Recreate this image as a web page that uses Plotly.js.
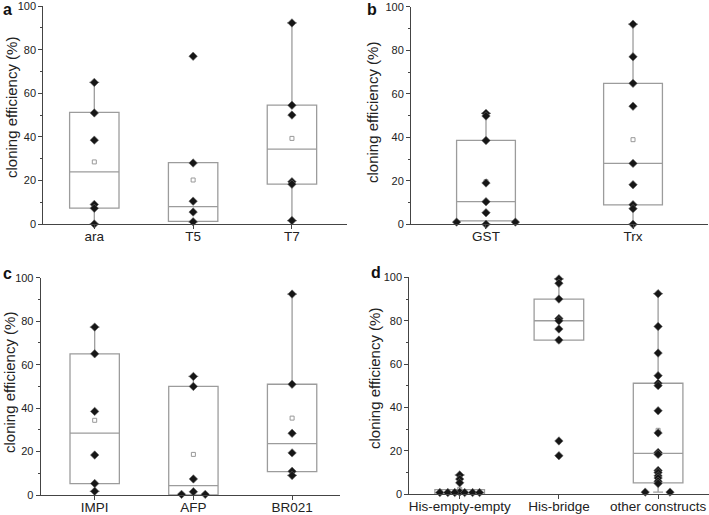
<!DOCTYPE html>
<html>
<head>
<meta charset="utf-8">
<script src="https://cdn.plot.ly/plotly-3.0.1.min.js"></script>
<style>html,body{margin:0;padding:0;background:#fff;}#chart{width:709px;height:515px;}</style>
</head>
<body>
<div id="chart"></div>
<script>
// ---------- Panel a ----------
const catsA = ['ara', 'T5', 'T7'];
const ptsA = [[65, 51, 38.5, 9, 7.2, 0], [77, 28, 10.5, 5.5, 1], [92.3, 54.5, 50, 19.4, 18.3, 1.6]];
const jitA = [[0, 0, 0, 0, 0, 0], [0, 0, 0, 0, 0], [0, 0, 0, 0, 0, 0]];
const q1A = [7.3, 1.2, 18.3];
const medA = [23.9, 8, 34.4];
const q3A = [51.2, 28.2, 54.6];
const loA = [0, 1, 1.6];
const hiA = [65, 28.2, 92.3];
const meanA = [28.5, 20.2, 39.3];

// ---------- Panel b ----------
const catsB = ['GST', 'Trx'];
const ptsB = [[51, 49.8, 38.5, 19, 10.4, 5.3, 1, 1, 0], [92, 77, 64.8, 54.3, 28, 18.2, 9, 7.2, 0]];
const jitB = [[0, 0, 0, 0, 0, 0, -0.2, 0.2, 0], [0, 0, 0, 0, 0, 0, 0, 0, 0]];
const q1B = [1.6, 8.9];
const medB = [10.4, 28];
const q3B = [38.6, 64.8];
const loB = [0, 0];
const hiB = [51, 92];
const meanB = [19.6, 38.9];

// ---------- Panel c ----------
const catsC = ['IMPI', 'AFP', 'BR021'];
const ptsC = [[77.3, 65, 38.5, 18.4, 5.3, 1.7], [54.6, 50, 7.4, 1.5, 0.3, 0.3], [92.5, 51, 28.4, 19.4, 10.9, 9]];
const jitC = [[0, 0, 0, 0, 0, 0], [0, 0, 0, 0, -0.12, 0.12], [0, 0, 0, 0, 0, 0]];
const q1C = [5.2, 0, 10.8];
const medC = [28.5, 4.3, 23.7];
const q3C = [65, 50, 51];
const loC = [1.7, 0, 9];
const hiC = [77.3, 54.6, 92.5];
const meanC = [34.4, 18.7, 35.4];

// ---------- Panel d ----------
const catsD = ['His-empty-empty', 'His-bridge', 'other constructs'];
const ptsD = [
  [8.9, 7, 5.3, 1, 0.8, 0.8, 0.8, 0.8, 0.8, 0.8],
  [99.3, 97.3, 90, 81, 80, 76.2, 71.1, 24.6, 17.8],
  [92.5, 77.4, 65.1, 54.7, 51.2, 50.1, 38.5, 28.3, 19.3, 18.4, 11, 10, 8.5, 7.5, 6, 5, 1, 1]
];
const jitD = [
  [0, 0, 0, 0, -0.2, -0.12, -0.05, 0.05, 0.13, 0.2],
  [0, 0, 0, 0, 0, 0, 0, 0, 0],
  [0, 0, 0, 0, 0, 0, 0, 0, 0, 0, 0, 0, 0, 0, 0, 0, -0.13, 0.12]
];
const q1D = [0, 71.1, 5.3];
const medD = [0.8, 80, 18.9];
const q3D = [2.2, 90, 51.2];
const loD = [0, 71.1, 1];
const hiD = [8.9, 99.3, 92.5];
const meanD = [2.3, 70.8, 29.5];

const panels = [
  {cats: catsA, pts: ptsA, jit: jitA, q1: q1A, med: medA, q3: q3A, lo: loA, hi: hiA, mean: meanA,
   xa: 'x', ya: 'y', bw: 0.5, ww: 0.2,
   xdom: [0.0611, 0.4894], ydom: [0.565, 0.9883], xr: [-0.516, 2.557], letter: 'a', lx: 7, ly: 10, tx: 12, ty: 108},
  {cats: catsB, pts: ptsB, jit: jitB, q1: q1B, med: medB, q3: q3B, lo: loB, hi: hiB, mean: meanB,
   xa: 'x2', ya: 'y2', bw: 0.4, ww: 0.17,
   xdom: [0.5797, 0.9986], ydom: [0.5645, 0.987], xr: [-0.51, 1.51], letter: 'b', lx: 372, ly: 10, tx: 373, ty: 112},
  {cats: catsC, pts: ptsC, jit: jitC, q1: q1C, med: medC, q3: q3C, lo: loC, hi: hiC, mean: meanC,
   xa: 'x3', ya: 'y3', bw: 0.5, ww: 0.2,
   xdom: [0.0574, 0.4795], ydom: [0.0388, 0.4608], xr: [-0.547, 2.485], letter: 'c', lx: 7, ly: 273, tx: 9, ty: 383},
  {cats: catsD, pts: ptsD, jit: jitD, q1: q1D, med: medD, q3: q3D, lo: loD, hi: hiD, mean: meanD,
   xa: 'x4', ya: 'y4', bw: 0.5, ww: 0.2,
   xdom: [0.5773, 1.0], ydom: [0.0402, 0.4616], xr: [-0.508, 2.513], letter: 'd', lx: 376, ly: 272, tx: 374, ty: 378}
];

const FONT = 'Liberation Sans, Arial, sans-serif';
const BOXC = '#9c9c9c';
const traces = [];
const layout = {
  width: 709, height: 515,
  margin: {l: 0, r: 0, t: 0, b: 0},
  paper_bgcolor: '#fff', plot_bgcolor: '#fff',
  showlegend: false,
  font: {family: FONT, color: '#222'},
  annotations: []
};

panels.forEach((p, i) => {
  const idx = p.cats.map((_, k) => k);
  traces.push({
    type: 'box', xaxis: p.xa, yaxis: p.ya,
    x: idx, q1: p.q1, median: p.med, q3: p.q3, lowerfence: p.lo, upperfence: p.hi,
    boxpoints: false, width: p.bw, whiskerwidth: p.ww,
    line: {color: BOXC, width: 1.3}, fillcolor: 'rgba(255,255,255,0)',
    hoverinfo: 'skip'
  });
  traces.push({
    type: 'scatter', mode: 'markers', xaxis: p.xa, yaxis: p.ya,
    x: idx, y: p.mean, cliponaxis: false,
    marker: {symbol: 'square-open', size: 4, color: '#999', line: {width: 1}},
    hoverinfo: 'skip'
  });
  const xs = [], ys = [];
  p.pts.forEach((arr, k) => arr.forEach((v, j) => { xs.push(k + p.jit[k][j]); ys.push(v); }));
  traces.push({
    type: 'scatter', mode: 'markers', xaxis: p.xa, yaxis: p.ya,
    x: xs, y: ys, cliponaxis: false,
    marker: {symbol: 'diamond', size: 6.5, color: '#161616', line: {color: '#666', width: 0.6}},
    hoverinfo: 'skip'
  });
  const sx = i === 0 ? '' : String(i + 1);
  layout['xaxis' + sx] = {
    domain: p.xdom, range: p.xr, anchor: p.ya,
    tickmode: 'array', tickvals: idx, ticktext: p.cats,
    ticks: 'outside', ticklen: 4, tickcolor: '#444', tickwidth: 1,
    ticklabelstandoff: -4, ticklabeloverflow: 'allow',
    showline: true, linecolor: '#444', linewidth: 1,
    showgrid: false, zeroline: false,
    tickfont: {size: 13.5, family: FONT, color: '#222'}
  };
  layout['yaxis' + sx] = {
    domain: p.ydom, range: [0, 100.05], anchor: p.xa,
    tickmode: 'array', tickvals: [0, 20, 40, 60, 80, 100],
    ticks: 'outside', ticklen: 4, tickcolor: '#444', tickwidth: 1,
    ticklabeloverflow: 'allow',
    minor: {tickmode: 'array', tickvals: [10, 30, 50, 70, 90], ticks: 'outside', ticklen: 2, tickcolor: '#444'},
    showline: true, linecolor: '#444', linewidth: 1,
    showgrid: false, zeroline: false,
    tickfont: {size: 11, family: FONT, color: '#222'}
  };
  layout.annotations.push({
    text: '<b>' + p.letter + '</b>', xref: 'paper', yref: 'paper',
    x: p.lx / 709, y: 1 - p.ly / 515, xanchor: 'center', yanchor: 'middle',
    showarrow: false, font: {size: 16, family: FONT, color: '#111'}
  });
  layout.annotations.push({
    text: 'cloning efficiency (%)', xref: 'paper', yref: 'paper',
    x: p.tx / 709, y: 1 - p.ty / 515, xanchor: 'center', yanchor: 'middle',
    textangle: -90, showarrow: false, font: {size: 15, family: FONT, color: '#222'}
  });
});

Plotly.newPlot('chart', traces, layout, {staticPlot: true, displayModeBar: false});
</script>
</body>
</html>
